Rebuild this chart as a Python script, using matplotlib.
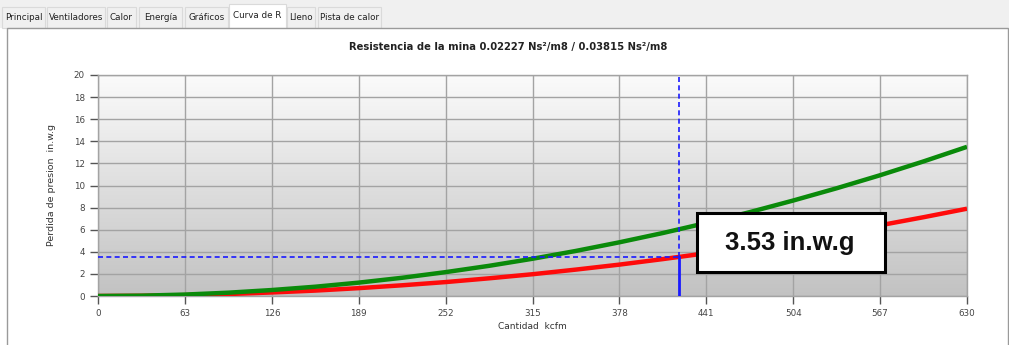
import numpy as np
import matplotlib
matplotlib.use("Agg")
import matplotlib.pyplot as plt
from matplotlib.patches import Rectangle

# ---- data ----
caudal = [0, 31.5, 63, 94.5, 126, 157.5, 189, 220.5, 252, 283.5, 315, 346.5,
          378, 409.5, 441, 472.5, 504, 535.5, 567, 598.5, 630]
perdida_roja = [0, 0.02, 0.08, 0.18, 0.32, 0.49, 0.71, 0.97, 1.26, 1.60, 1.97,
                2.39, 2.84, 3.34, 3.87, 4.44, 5.06, 5.71, 6.40, 7.13, 7.90]
perdida_verde = [0, 0.03, 0.13, 0.30, 0.54, 0.84, 1.21, 1.65, 2.16, 2.73, 3.37,
                 4.08, 4.86, 5.70, 6.61, 7.59, 8.64, 9.75, 10.93, 12.18, 13.50]
punto_q = 421
punto_p = 3.53
x_ticks = [0, 63, 126, 189, 252, 315, 378, 441, 504, 567, 630]
y_ticks = [0, 2, 4, 6, 8, 10, 12, 14, 16, 18, 20]
tabs = ["Principal", "Ventiladores", "Calor", "Energía", "Gráficos",
        "Curva de R", "Lleno", "Pista de calor"]
titulo = "Resistencia de la mina 0.02227 Ns²/m8 / 0.03815 Ns²/m8"
etiqueta = "3.53 in.w.g"

W, H = 1009, 345
fig = plt.figure(figsize=(W / 100, H / 100), dpi=100)
fig.patch.set_facecolor("white")

narrow = ["Liberation Sans Narrow", "DejaVu Sans"]

# ---- tab strip ----
bg = fig.add_axes([0, 0, 1, 1], zorder=-5)
bg.set_xlim(0, W)
bg.set_ylim(H, 0)
bg.axis("off")
bg.add_patch(Rectangle((0, 0), W, 28, facecolor="#f0f0f0", edgecolor="none"))
tab_x = [(2, 45), (47, 105), (107, 136), (139, 182), (185, 228),
         (229, 286), (287, 315), (318, 381)]
for i, (name, (a, b)) in enumerate(zip(tabs, tab_x)):
    sel = name == "Curva de R"
    y0 = 4 if sel else 7
    bg.add_patch(Rectangle((a, y0), b - a, 28 - y0,
                           facecolor="white" if sel else "#f0f0f0",
                           edgecolor="#dadada", lw=0.8))
    bg.text((a + b) / 2, 17 if not sel else 15, name, ha="center", va="center",
            fontsize=6.3, family=narrow, color="#222222")
# panel border
bg.add_patch(Rectangle((7, 28), 1000.5, 330, facecolor="white",
                       edgecolor="#9a9a9a", lw=1.0))

# ---- main axes ----
left, right, top, bottom = 98, 967, 75, 296
ax = fig.add_axes([left / W, 1 - bottom / H, (right - left) / W, (bottom - top) / H])

grad = np.linspace(0.0, 1.0, 256).reshape(-1, 1)
ax.imshow(grad, extent=[0, 630, 0, 20], aspect="auto", origin="lower",
          cmap=matplotlib.colors.LinearSegmentedColormap.from_list(
              "g", ["#c2c2c2", "#fbfbfb"]), zorder=0, interpolation="bilinear")

ax.set_xlim(0, 630)
ax.set_ylim(0, 20)
ax.set_xticks(x_ticks)
ax.set_yticks(y_ticks)
ax.grid(True, color="#a3a3a3", lw=1.0, zorder=1)
for s in ax.spines.values():
    s.set_color("#a3a3a3")
    s.set_linewidth(1.0)
ax.tick_params(axis="both", direction="out", length=6, width=1, color="#555555",
               labelsize=6.3, labelcolor="#444444")
for lab in ax.get_xticklabels() + ax.get_yticklabels():
    lab.set_family(narrow)

ax.plot(caudal, perdida_verde, color="#0a8a0a", lw=3.2, zorder=4,
        solid_capstyle="butt")
ax.plot(caudal, perdida_roja, color="#ff0a0a", lw=3.2, zorder=3,
        solid_capstyle="butt")

# guide lines
ax.plot([0, punto_q], [punto_p, punto_p], color="#1a1aff", lw=1.2,
        ls=(0, (3, 2)), zorder=5)
ax.plot([punto_q, punto_q], [punto_p, 20], color="#1a1aff", lw=1.2,
        ls=(0, (3, 2)), zorder=5)
ax.plot([punto_q, punto_q], [0, punto_p], color="#1a1aff", lw=2.0, zorder=5)

ax.set_xlabel("Cantidad  kcfm", fontsize=6.5, family=narrow, color="#333333",
              labelpad=3)
ax.set_ylabel("Perdida de presion  in.w.g", fontsize=6.8, family=narrow,
              color="#333333", labelpad=13)

fig.text(508 / W, 1 - 47 / H, titulo, ha="center", va="center", fontsize=7.2,
         fontweight="bold", family=["Liberation Sans Narrow", "DejaVu Sans"],
         color="#222222")

# annotation box
bg2 = fig.add_axes([0, 0, 1, 1], zorder=10)
bg2.set_xlim(0, W)
bg2.set_ylim(H, 0)
bg2.axis("off")
bg2.add_patch(Rectangle((697, 213), 188, 59, facecolor="white",
                        edgecolor="black", lw=2.2))
bg2.text(790, 243, etiqueta, ha="center", va="center", fontsize=18.5,
         fontweight="bold", family=["Liberation Sans", "DejaVu Sans"],
         color="#111111")

fig.savefig("out.png", dpi=100)
